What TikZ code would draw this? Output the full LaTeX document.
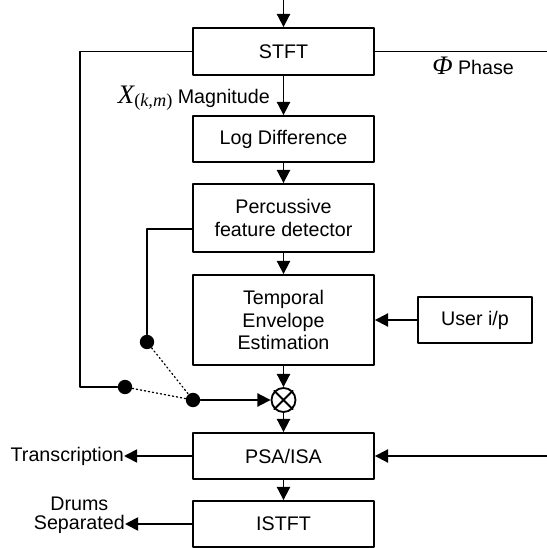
\documentclass[tikz,border=0pt]{standalone}
\usepackage{fontspec}
\setmainfont{Liberation Sans}
\newfontfamily\timesfont{Liberation Serif}
\usetikzlibrary{arrows.meta}
\begin{document}
\begin{tikzpicture}[line cap=round,line join=round,>={Triangle[length=3.3mm,width=3.3mm]},x=1.0cm,y=1.0cm,scale=1,
	box/.style={draw,line width=1.3pt,minimum width=4.525cm,align=center,inner sep=0pt,font=\fontsize{14}{16}\selectfont},
	lbl/.style={font=\fontsize{14}{14}\selectfont,inner sep=0pt,align=center},
	dot/.style={circle,fill=black,inner sep=0pt,minimum size=0.36cm},
	wire/.style={line width=1.3pt}]
				\useasboundingbox (0,0) rectangle (13.675,13.7);
				\node[box,minimum height=1.175cm] (stft) at (7.0875,12.4125) {STFT};
				\node[box,minimum height=1.15cm] (logd) at (7.0875,10.225) {Log Difference};
				\node[box,minimum height=1.7cm] (perc) at (7.0875,8.25) {Percussive\\feature detector};
				\node[box,minimum height=2.25cm] (tenv) at (7.0875,5.7) {Temporal\\Envelope\\Estimation};
				\node[box,minimum width=2.85cm,minimum height=1.15cm] (user) at (11.875,5.7) {User i/p};
				\node[draw,circle,line width=1.3pt,minimum size=0.6cm,inner sep=0pt] (mult) at (7.0875,3.7) {};
				\draw[line width=1.3pt] (mult.north west) -- (mult.south east) (mult.north east) -- (mult.south west);
				\node[box,minimum height=1.15cm] (psa) at (7.0875,2.3) {PSA/ISA};
				\node[box,minimum height=1.15cm] (istft) at (7.0875,0.6) {ISTFT};
				\coordinate (in) at (7.0875,13.7);
				\coordinate (phend) at (13.675,12.4125);
				\coordinate (psaend) at (13.675,2.3);
				\node[dot] (d1) at (3.675,5.15) {};
				\node[dot] (d2) at (3.125,4.025) {};
				\node[dot] (d3) at (4.825,3.7) {};
				\node[lbl,anchor=east] (mag) at (6.75,11.25) {{\timesfont\itshape\fontsize{19}{19}\selectfont X}\raisebox{-0.3ex}{\timesfont\fontsize{13}{13}\selectfont(\textit{k,m})} Magnitude};
				\node[lbl,anchor=west] (phase) at (10.8,12.05) {{\timesfont\itshape\fontsize{19}{19}\selectfont\char"03A6}\ Phase};
				\node[lbl,anchor=east] (trans) at (3.1,2.3) {Transcription};
				\node[lbl,anchor=east] (sepa) at (3.125,0.6) {Separated};
				\node[lbl] (drums) at (sepa.center|-0,1.1) {Drums};
				\draw [->,wire] (in) -- (stft);
				\draw [->,wire] (stft) -- (logd);
				\draw [->,wire] (logd) -- (perc);
				\draw [->,wire] (perc) -- (tenv);
				\draw [->,wire] (tenv) -- (mult);
				\draw [->,wire] (mult) -- (psa);
				\draw [->,wire] (psa) -- (istft);
				\draw [->,wire] (user) -- (tenv);
				\draw [wire] (stft) -- (phend);
				\draw [->,wire] (psaend) -- (psa);
				\draw [->,wire] (psa) -- (trans);
				\draw [->,wire] (istft) -- (sepa);
				\draw [wire] (stft.west) -| (2.0,4.025) -- (d2);
				\draw [wire] ([yshift=-0.275cm]perc.west) -| (d1);
				\draw [dotted,line width=0.9pt] (d1) -- (d3);
				\draw [dotted,line width=0.9pt] (d2) -- (d3);
				\draw [->,wire] (d3) -- (mult);
\end{tikzpicture}
\end{document}
